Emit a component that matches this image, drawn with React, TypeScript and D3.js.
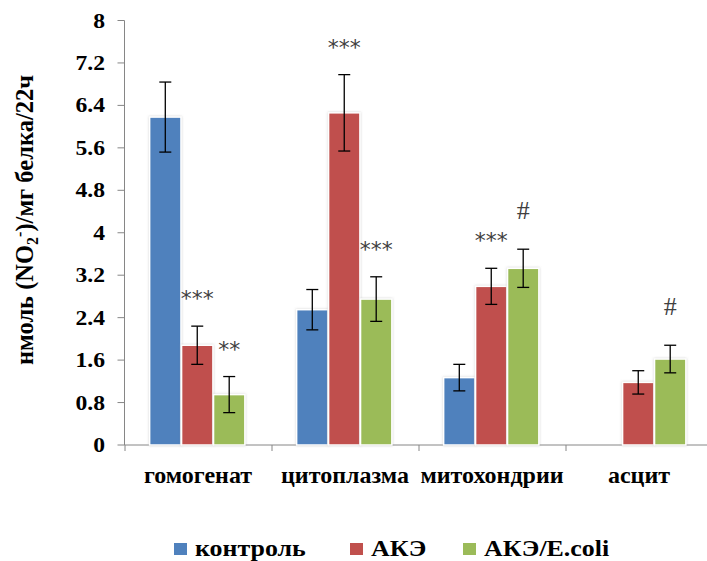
import React from 'react';
import * as d3 from 'd3';

const categories = ['гомогенат', 'цитоплазма', 'митохондрии', 'асцит'];
const seriesNames = ['контроль', 'АКЭ', 'АКЭ/E.coli'];
const seriesColors = ['#4F81BD', '#C0504D', '#9BBB59'];

// values, null = no bar
const control = [6.18, 2.55, 1.27, null];
const ake = [1.88, 6.26, 2.99, 1.18];
const akeEcoli = [0.95, 2.75, 3.33, 1.62];

const controlErr = [0.66, 0.38, 0.25, null];
const akeErr = [0.36, 0.72, 0.34, 0.22];
const akeEcoliErr = [0.34, 0.42, 0.36, 0.26];

const controlMarks = ['', '', '', ''];
const akeMarks = ['***', '***', '***', ''];
const akeEcoliMarks = ['**', '***', '#', '#'];

const yTicks = [0, 0.8, 1.6, 2.4, 3.2, 4, 4.8, 5.6, 6.4, 7.2, 8];

const W = 707;
const H = 561;
const plotLeft = 124.5;
const plotBottom = 445;
const plotTop = 20.5;
const step = 147;
const SERIF = 'Liberation Serif';

export default function App() {
  const x0 = d3
    .scaleBand()
    .domain(categories)
    .range([plotLeft, plotLeft + step * categories.length])
    .paddingInner(0)
    .paddingOuter(0);
  const x1 = d3.scaleBand().domain(seriesNames).range([24.5, 121]).padding(0.02);
  const y = d3.scaleLinear().domain([0, 8]).range([plotBottom, plotTop]);

  const values = [control, ake, akeEcoli];
  const errs = [controlErr, akeErr, akeEcoliErr];
  const marks = [controlMarks, akeMarks, akeEcoliMarks];

  const bars: any[] = [];
  categories.forEach((c, ci) => {
    seriesNames.forEach((s, si) => {
      const v = values[si][ci];
      if (v == null) return;
      bars.push({ c, s, si, v, e: errs[si][ci] as number, m: marks[si][ci] });
    });
  });

  return (
    <svg width={W} height={H} style={{ position: 'absolute', left: 0, top: 0 }}>
      <defs>
        <filter id="sh" x="-20%" y="-20%" width="140%" height="140%">
          <feDropShadow dx="0" dy="0" stdDeviation="1.2" floodColor="#999" floodOpacity="0.5" />
        </filter>
      </defs>
      <rect width={W} height={H} fill="#fff" />

      {/* y axis */}
      <line x1={plotLeft} x2={plotLeft} y1={plotTop} y2={plotBottom} stroke="#868686" strokeWidth={1} />
      {yTicks.map((t) => (
        <g key={t}>
          <line x1={plotLeft - 7} x2={plotLeft} y1={y(t)} y2={y(t)} stroke="#868686" />
          <text
            transform={`translate(105,${y(t)}) scale(1.18,1)`}
            dy="0.35em"
            textAnchor="end"
            fontFamily={SERIF}
            fontWeight="bold"
            fontSize={20}
            fill="#000"
          >
            {d3.format('~g')(t)}
          </text>
        </g>
      ))}

      {/* x axis */}
      <line x1={plotLeft} x2={W} y1={plotBottom} y2={plotBottom} stroke="#868686" />
      {categories.concat(['end']).map((c, i) => (
        <line
          key={'t' + i}
          x1={plotLeft + 0.5 + i * step}
          x2={plotLeft + 0.5 + i * step}
          y1={plotBottom}
          y2={plotBottom + 6}
          stroke="#868686"
        />
      ))}
      {categories.map((c) => (
        <text
          key={c}
          x={(x0(c) as number) + x0.bandwidth() / 2}
          y={483}
          textAnchor="middle"
          fontFamily={SERIF}
          fontWeight="bold"
          fontSize={24}
        >
          {c}
        </text>
      ))}

      {/* bars */}
      {bars.map((b, i) => {
        const bx = (x0(b.c) as number) + (x1(b.s) as number);
        const bw = x1.bandwidth();
        const cx = bx + bw / 2;
        const errTop = y(b.v + b.e);
        const isHash = b.m === '#';
        return (
          <g key={i}>
            <rect
              x={bx}
              y={y(b.v)}
              width={bw}
              height={plotBottom - y(b.v)}
              fill={seriesColors[b.si]}
              stroke="#fff"
              strokeWidth={1.5}
              filter="url(#sh)"
            />
            <line x1={cx} x2={cx} y1={errTop} y2={y(b.v - b.e)} stroke="#000" strokeWidth={1.3} />
            <line x1={cx - 6} x2={cx + 6} y1={errTop} y2={errTop} stroke="#000" strokeWidth={1.3} />
            <line x1={cx - 6} x2={cx + 6} y1={y(b.v - b.e)} y2={y(b.v - b.e)} stroke="#000" strokeWidth={1.3} />
            {b.m && (
              <text
                x={cx}
                y={isHash ? errTop - 30 : errTop - 20}
                textAnchor="middle"
                fontFamily={isHash ? SERIF : 'DejaVu Sans'}
                fontSize={isHash ? 26 : 22}
                fill="#404040"
              >
                {b.m}
              </text>
            )}
          </g>
        );
      })}

      {/* y label */}
      <text
        transform={`translate(33,220) rotate(-90)`}
        textAnchor="middle"
        fontFamily={SERIF}
        fontWeight="bold"
        fontSize={24.5}
      >
        нмоль (NO
        <tspan dy={5} fontSize={16}>2</tspan>
        <tspan dy={-13} fontSize={16}>-</tspan>
        <tspan dy={8}>)/мг белка/22ч</tspan>
      </text>

      {/* legend */}
      {seriesNames.map((s, i) => {
        const lx = [174, 350, 463][i];
        return (
          <g key={s}>
            <rect x={lx} y={543} width={13} height={12} fill={seriesColors[i]} />
            <text
              transform={`translate(${lx + 21},556) scale(1.08,1)`}
              fontFamily={SERIF}
              fontWeight="bold"
              fontSize={24}
            >
              {s}
            </text>
          </g>
        );
      })}
    </svg>
  );
}
